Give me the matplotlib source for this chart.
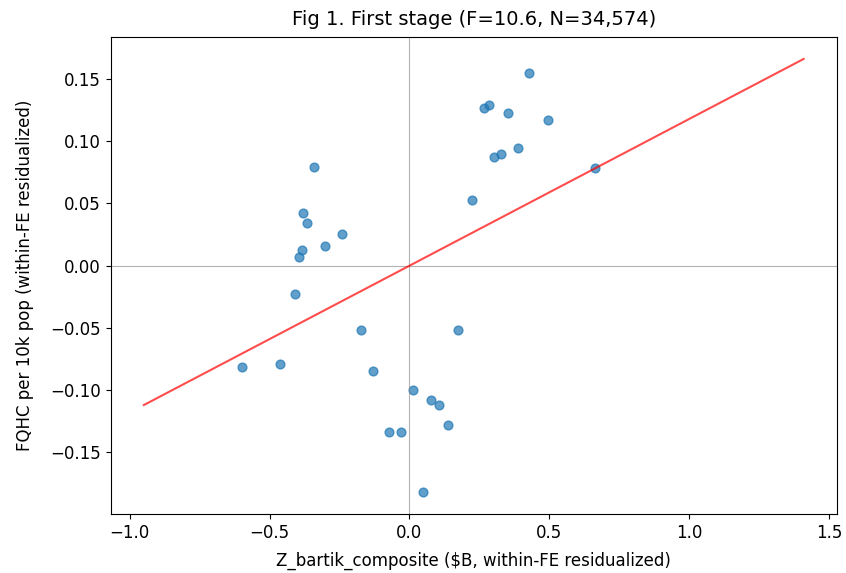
import matplotlib
matplotlib.use("Agg")

import matplotlib.pyplot as plt
import numpy as np

# residualized instrument (x) and outcome (y)
z_resid = [-0.340, -0.379, -0.365, -0.240, -0.301, -0.386, -0.394, -0.411,
           -0.175, -0.599, -0.464, -0.129, -0.073, -0.030,
           0.175, 0.012, 0.076, 0.105, 0.137, 0.048,
           0.429, 0.268, 0.285, 0.354, 0.494, 0.388, 0.328, 0.302, 0.663, 0.224]
fqhc_resid = [0.0794, 0.0425, 0.0345, 0.0257, 0.0160, 0.0128, 0.0072, -0.0225,
              -0.0520, -0.0810, -0.0789, -0.0845, -0.1334, -0.1334,
              -0.0520, -0.0995, -0.1080, -0.1117, -0.1280, -0.1820,
              0.1550, 0.1265, 0.1289, 0.1230, 0.1170, 0.0949, 0.0898, 0.0877, 0.0786, 0.0527]

fit_slope = 0.1178
fit_x_range = [-0.95, 1.41]

fig = plt.figure(figsize=(8.46, 5.73), dpi=100)
ax = fig.add_axes([0.131, 0.103, 0.858, 0.832])

ax.axhline(0, color="gray", lw=0.8, alpha=0.6)
ax.axvline(0, color="gray", lw=0.8, alpha=0.6)
ax.scatter(z_resid, fqhc_resid, s=40, alpha=0.7, color="tab:blue")

xs = np.array(fit_x_range)
ax.plot(xs, fit_slope * xs, color="red", alpha=0.7, lw=1.5)

ax.set_title("Fig 1. First stage (F=10.6, N=34,574)", fontsize=14, pad=9)
ax.set_xlabel("Z_bartik_composite ($B, within-FE residualized)", fontsize=12, labelpad=7)
ax.set_ylabel("FQHC per 10k pop (within-FE residualized)", fontsize=12, labelpad=12)
ax.tick_params(labelsize=12)

fig.savefig("out.png", dpi=100)
